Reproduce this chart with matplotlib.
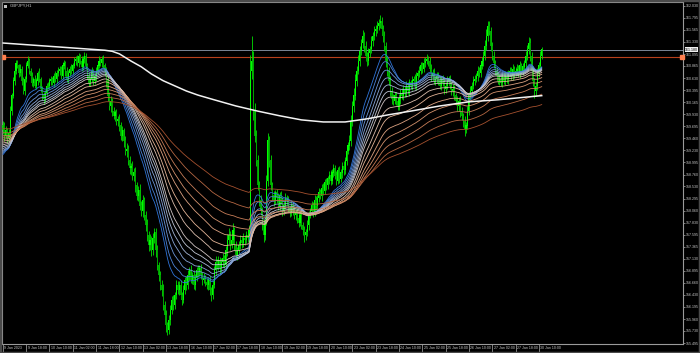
import numpy as np
import matplotlib
matplotlib.use("Agg")
import matplotlib.pyplot as plt
from matplotlib.colors import LinearSegmentedColormap
from matplotlib.patches import Rectangle
import matplotlib.transforms as mtransforms

plt.rcParams["font.family"] = ["Liberation Sans Narrow", "Liberation Sans", "DejaVu Sans"]

# ---------------- data (GBPJPY H1) ----------------
closes = [
    159.71, 159.51, 159.61, 159.46, 159.57, 159.99, 160.29, 160.58, 160.77, 160.92,
    160.87, 160.73, 160.81, 160.58, 160.38, 160.61, 160.87, 160.96, 160.77, 160.67,
    160.54, 160.61, 160.48, 160.58, 160.73, 160.61, 160.42, 160.29, 160.23, 160.34,
    160.48, 160.48, 160.58, 160.61, 160.54, 160.67, 160.61, 160.73, 160.77, 160.81,
    160.67, 160.87, 160.92, 160.77, 160.61, 160.73, 160.81, 160.77, 160.87, 160.96,
    161.00, 160.92, 161.06, 160.96, 160.85, 161.00, 161.06, 160.87, 160.67, 160.54,
    160.61, 160.77, 160.58, 160.67, 160.77, 160.87, 160.96, 160.92, 161.00, 160.87,
    160.77, 160.58, 160.29, 160.09, 160.19, 159.99, 159.90, 159.96, 159.80, 159.84,
    159.71, 159.51, 159.61, 159.42, 159.22, 159.26, 159.03, 158.88, 158.93, 158.74,
    158.80, 158.55, 158.35, 158.45, 158.16, 158.06, 158.26, 157.97, 157.78, 157.58,
    157.39, 157.49, 157.29, 157.53, 157.64, 157.29, 157.00, 156.81, 156.62, 156.52,
    156.23, 156.04, 155.84, 155.75, 155.94, 156.13, 156.33, 156.23, 156.43, 156.62,
    156.52, 156.62, 156.43, 156.33, 156.52, 156.71, 156.62, 156.81, 156.91, 156.71,
    156.81, 156.62, 156.75, 156.91, 156.87, 156.94, 156.81, 156.71, 156.75, 156.68,
    156.62, 156.71, 156.52, 156.43, 156.62, 156.91, 157.06, 157.00, 157.10, 156.94,
    157.06, 157.14, 157.00, 157.29, 157.49, 157.58, 157.39, 157.49, 157.68, 157.39,
    157.20, 157.29, 157.39, 157.49, 157.43, 157.53, 157.49, 157.58, 157.53, 157.68,
    160.77, 160.96, 159.99, 159.51, 159.03, 158.55, 158.26, 158.06, 157.78, 157.58,
    157.87, 158.64, 159.42, 159.03, 158.55, 158.35, 158.26, 158.41, 158.30, 158.16,
    158.35, 158.26, 158.06, 158.16, 158.30, 158.26, 158.10, 158.03, 158.16, 158.06,
    157.97, 158.03, 157.91, 157.83, 157.97, 157.78, 157.68, 157.58, 157.64, 157.78,
    157.97, 158.06, 158.16, 158.03, 158.26, 158.16, 158.30, 158.41, 158.35, 158.49,
    158.45, 158.61, 158.55, 158.68, 158.74, 158.64, 158.80, 158.88, 158.74, 158.64,
    158.84, 158.68, 158.80, 158.93, 158.84, 159.03, 159.22, 159.32, 159.42, 159.80,
    160.09, 160.29, 160.58, 160.77, 160.96, 161.15, 161.31, 161.44, 161.25, 161.06,
    160.96, 161.12, 161.19, 161.35, 161.44, 161.54, 161.58, 161.64, 161.69, 161.73,
    161.58, 161.44, 161.25, 160.96, 160.77, 160.58, 160.38, 160.23, 160.19, 160.29,
    160.19, 160.09, 160.23, 160.34, 160.29, 160.42, 160.34, 160.48, 160.38, 160.54,
    160.48, 160.58, 160.61, 160.48, 160.67, 160.73, 160.77, 160.87, 160.81, 160.92,
    160.96, 161.00, 160.96, 160.81, 160.67, 160.73, 160.58, 160.61, 160.67, 160.58,
    160.48, 160.61, 160.54, 160.42, 160.48, 160.58, 160.61, 160.48, 160.38, 160.42,
    160.29, 160.19, 160.09, 160.19, 159.99, 159.90, 159.80, 159.65, 159.71, 159.99,
    160.29, 160.38, 160.48, 160.58, 160.61, 160.67, 160.77, 160.73, 160.87, 160.96,
    161.06, 161.25, 161.44, 161.64, 161.54, 161.25, 161.06, 160.92, 160.77, 160.67,
    160.58, 160.61, 160.54, 160.65, 160.58, 160.67, 160.61, 160.73, 160.77, 160.67,
    160.81, 160.73, 160.77, 160.81, 160.73, 160.87, 160.77, 160.85, 160.92, 161.06,
    161.19, 161.31, 161.06, 160.77, 160.58, 160.38, 160.48, 160.73, 160.87, 161.06,
    161.18,
]
first_open = 159.62

# upper / lower shadows beyond the body, in hundredths of a yen
up_wick = [
    8, 6, 10, 5, 7, 9, 6, 8, 5, 7, 6, 4, 9, 5, 7, 6, 8, 10, 5, 6,
    7, 5, 8, 6, 4, 9, 5, 6, 7, 5, 6, 8, 5, 7, 4, 6, 9, 5, 7, 6,
    5, 8, 6, 4, 7, 5, 6, 9, 5, 7, 6, 8, 5, 4, 9, 6, 7, 5, 6, 8,
    5, 7, 4, 6, 8, 5, 9, 6, 5, 7, 6, 8, 10, 7, 9, 6, 8, 5, 7, 6,
    9, 7, 10, 6, 8, 12, 7, 9, 6, 10, 8, 11, 7, 9, 12, 8, 10, 7, 9, 11,
    8, 12, 7, 10, 9, 8, 11, 7, 9, 10, 12, 8, 10, 7, 9, 11, 8, 10, 6, 9,
    7, 8, 10, 6, 9, 7, 8, 11, 6, 9, 7, 10, 8, 6, 9, 7, 8, 6, 10, 7,
    8, 6, 9, 7, 10, 8, 12, 7, 9, 6, 8, 10, 7, 9, 12, 14, 8, 10, 15, 7,
    9, 6, 8, 10, 7, 9, 6, 8, 7, 10, 30, 48, 20, 15, 12, 10, 9, 11, 8, 10,
    9, 12, 14, 8, 10, 7, 9, 6, 8, 10, 7, 9, 6, 8, 10, 7, 9, 6, 8, 7,
    9, 6, 8, 10, 7, 9, 6, 8, 7, 10, 8, 6, 9, 7, 10, 8, 6, 9, 7, 8,
    10, 7, 9, 6, 8, 10, 7, 9, 6, 8, 7, 9, 6, 8, 10, 7, 9, 8, 10, 12,
    10, 14, 12, 9, 11, 10, 8, 12, 9, 10, 8, 10, 7, 9, 8, 10, 7, 9, 8, 12,
    9, 7, 10, 8, 9, 7, 10, 8, 9, 7, 8, 6, 9, 7, 10, 8, 6, 9, 7, 8,
    6, 9, 7, 10, 8, 6, 9, 7, 8, 10, 7, 9, 6, 8, 10, 7, 9, 6, 8, 7,
    9, 6, 8, 10, 7, 9, 6, 8, 7, 10, 8, 6, 9, 7, 10, 8, 6, 9, 7, 10,
    8, 9, 7, 10, 8, 6, 9, 7, 10, 8, 10, 12, 14, 10, 9, 8, 7, 9, 6, 8,
    7, 9, 6, 8, 10, 7, 9, 6, 8, 7, 9, 6, 8, 10, 7, 9, 6, 8, 7, 10,
    8, 12, 10, 7, 9, 6, 8, 10, 7, 9, 6,
]
dn_wick = [
    7, 9, 5, 8, 6, 10, 7, 5, 8, 6, 5, 7, 6, 9, 5, 8, 6, 4, 7, 5,
    6, 8, 5, 7, 9, 5, 6, 8, 10, 7, 5, 7, 6, 8, 5, 9, 6, 7, 5, 8,
    6, 5, 7, 9, 6, 8, 5, 7, 6, 5, 8, 6, 7, 5, 9, 6, 8, 7, 5, 6,
    7, 5, 8, 6, 9, 7, 5, 6, 8, 5, 9, 12, 10, 8, 11, 9, 7, 10, 8, 9,
    11, 8, 10, 12, 9, 11, 8, 10, 12, 9, 10, 12, 9, 11, 8, 10, 12, 9, 11, 10,
    12, 9, 11, 8, 10, 12, 9, 11, 10, 12, 9, 11, 14, 10, 8, 9, 7, 10, 8, 9,
    8, 10, 7, 9, 6, 8, 10, 7, 9, 6, 8, 7, 9, 6, 10, 8, 7, 9, 6, 8,
    7, 9, 10, 12, 8, 6, 9, 7, 8, 10, 7, 9, 6, 8, 10, 7, 9, 6, 8, 10,
    7, 9, 6, 8, 10, 7, 9, 6, 8, 7, 6, 15, 18, 12, 10, 9, 11, 8, 10, 12,
    8, 9, 10, 12, 9, 8, 10, 7, 9, 8, 9, 7, 10, 8, 6, 9, 7, 10, 8, 9,
    7, 10, 8, 9, 6, 8, 10, 12, 8, 7, 9, 6, 8, 10, 7, 9, 6, 8, 7, 10,
    8, 6, 9, 7, 10, 8, 6, 9, 7, 8, 6, 9, 7, 10, 8, 6, 9, 7, 8, 10,
    9, 11, 8, 10, 7, 9, 8, 10, 12, 9, 10, 8, 9, 7, 10, 8, 9, 7, 8, 9,
    10, 12, 9, 11, 10, 8, 9, 10, 8, 7, 9, 7, 8, 10, 6, 9, 7, 8, 6, 9,
    7, 8, 10, 6, 9, 7, 8, 6, 9, 7, 8, 6, 9, 7, 10, 8, 6, 9, 7, 8,
    6, 9, 7, 10, 8, 6, 9, 7, 8, 10, 9, 8, 10, 9, 11, 8, 12, 14, 9, 7,
    8, 6, 9, 7, 8, 6, 9, 7, 8, 6, 9, 7, 8, 10, 8, 9, 7, 10, 8, 9,
    6, 8, 7, 9, 6, 8, 7, 9, 6, 8, 7, 9, 6, 8, 7, 9, 6, 8, 7, 9,
    8, 10, 9, 12, 10, 14, 9, 8, 7, 9, 6,
]

# moving-average ribbon: periods and their values at the first visible bar
ema_periods = [21, 25, 30, 35, 40, 45, 50, 60, 70, 85, 100, 120, 150, 200]
ema_start = [159.09, 159.13, 159.17, 159.20, 159.24, 159.28, 159.32,
             159.36, 159.40, 159.44, 159.48, 159.51, 159.57, 159.65]

# long (white) average, sampled at bar indices
slow_idx = [0, 20, 40, 60, 70, 75, 80, 88, 95, 102, 110, 118, 126, 134, 145,
            160, 175, 190, 205, 220, 235, 250, 265, 280, 300, 320, 340, 355, 370]
slow_val = [161.31, 161.27, 161.23, 161.19, 161.17, 161.15, 161.10, 160.96,
            160.85, 160.71, 160.58, 160.48, 160.38, 160.30, 160.21, 160.09,
            159.99, 159.90, 159.82, 159.78, 159.78, 159.84, 159.92, 159.99,
            160.09, 160.17, 160.21, 160.25, 160.29]

bid_price = 161.18
level_price = 161.04

x_tick_labels = ["9 Jan 2023", "9 Jan 18:00", "10 Jan 10:00", "11 Jan 02:00",
                 "11 Jan 18:00", "12 Jan 10:00", "13 Jan 02:00", "13 Jan 18:00",
                 "16 Jan 10:00", "17 Jan 02:00", "17 Jan 18:00", "18 Jan 10:00",
                 "19 Jan 02:00", "19 Jan 18:00", "20 Jan 10:00", "23 Jan 02:00",
                 "23 Jan 18:00", "24 Jan 10:00", "25 Jan 02:00", "25 Jan 18:00",
                 "26 Jan 10:00", "27 Jan 02:00", "27 Jan 18:00", "30 Jan 10:00"]
y_tick_values = [155.495, 155.730, 155.960, 156.195, 156.430, 156.660, 156.895,
                 157.130, 157.365, 157.595, 157.830, 158.060, 158.295, 158.530,
                 158.760, 158.995, 159.230, 159.460, 159.695, 159.930, 160.165,
                 160.395, 160.630, 160.865, 161.095, 161.330, 161.565, 161.795,
                 162.030]

# ---------------- figure ----------------
W, H = 700, 353
FS = 2.6
fig = plt.figure(figsize=(W / 100, H / 100), dpi=100)
fig.patch.set_facecolor("#000000")
ax = fig.add_axes([2 / W, 9 / H, 681 / W, 342 / H])
ax.set_facecolor("#000000")

c = np.array(closes)
n = len(c)
idx = np.arange(n)
o = np.concatenate([[first_open], c[:-1]])
hi = np.maximum(o, c) + np.array(up_wick) / 100.0
lo = np.minimum(o, c) - np.array(dn_wick) / 100.0

# candles
ax.vlines(idx, lo, hi, color="#00e000", lw=0.6, zorder=3)
up = c >= o
ax.bar(idx[up], np.abs(c - o)[up] + 0.005, bottom=np.minimum(o, c)[up], width=0.75,
       color="#00ff00", lw=0, zorder=3)
ax.bar(idx[~up], np.abs(c - o)[~up] + 0.005, bottom=np.minimum(o, c)[~up], width=0.75,
       color="#00a000", lw=0, zorder=3)

# EMA ribbon
cmap = LinearSegmentedColormap.from_list(
    "rib", ["#2f74d8", "#7f9fd6", "#c4c8d4", "#e6b89a", "#d08a64", "#a4502e"])
for k, (p, s) in enumerate(zip(ema_periods, ema_start)):
    a = 2.0 / (p + 1)
    e = np.empty(n)
    prev = s
    for i in range(n):
        prev = prev + a * (c[i] - prev)
        e[i] = prev
    ax.plot(idx, e, color=cmap(k / (len(ema_periods) - 1)), lw=0.6, zorder=4)

# long white average
ax.plot(slow_idx, slow_val, color="#f2f2f2", lw=1.1, zorder=4)

# horizontal lines
ax.axhline(bid_price, color="#7a8696", lw=0.7, zorder=2)
ax.axhline(level_price, color="#b8401c", lw=0.8, zorder=2)
blend = mtransforms.blended_transform_factory(ax.transAxes, ax.transData)
ax.plot([0.002], [level_price], marker="s", ms=2.2, color="#ff8050",
        transform=blend, clip_on=False, zorder=6)
ax.plot([0.999], [level_price], marker="s", ms=2.2, color="#ff8050",
        transform=blend, clip_on=False, zorder=6)

ax.set_xlim(-0.6, 467)
ax.set_ylim(155.476, 162.105)

# axes styling
for sp in ax.spines.values():
    sp.set_color("#9a9a9a")
    sp.set_linewidth(0.8)
ax.yaxis.tick_right()
ax.set_yticks(y_tick_values)
ax.set_yticklabels([f"{v:.3f}" for v in y_tick_values])
ax.tick_params(axis="y", length=1.5, width=0.5, color="#b0b0b0",
               labelsize=FS, labelcolor="#c8c8c8", pad=0.8)
xt = [16 * k for k in range(len(x_tick_labels))]
ax.set_xticks(xt)
ax.set_xticklabels([])
ax.tick_params(axis="x", length=6, width=0.5, color="#b0b0b0", direction="out")
xblend = mtransforms.blended_transform_factory(ax.transData, ax.transAxes)
for t, lab in zip(xt, x_tick_labels):
    ax.text(t + 1.0, -0.013, lab, transform=xblend, fontsize=FS,
            color="#c8c8c8", ha="left", va="center")

# current price box
ax.text(1.003, bid_price, f"{bid_price:.3f}", transform=blend, fontsize=FS,
        color="#000000", ha="left", va="center", zorder=7,
        bbox=dict(boxstyle="square,pad=0.12", fc="#f0f0f0", ec="none"))

# title
fig.text(10 / W, 1 - 6 / H, "GBPJPY,H1", fontsize=3.0, color="#d0d0d0",
         ha="left", va="center")
fig.patches.append(Rectangle((4 / W, 1 - 8 / H), 3 / W, 3 / H,
                             transform=fig.transFigure, fc="#c0c0c0", ec="none"))

# window frame
fig.patches.append(Rectangle((0, 0), 1, 1, transform=fig.transFigure,
                             fill=False, ec="#4a4a4a", lw=2.5))

fig.savefig("out.png", dpi=100, facecolor=fig.get_facecolor())
